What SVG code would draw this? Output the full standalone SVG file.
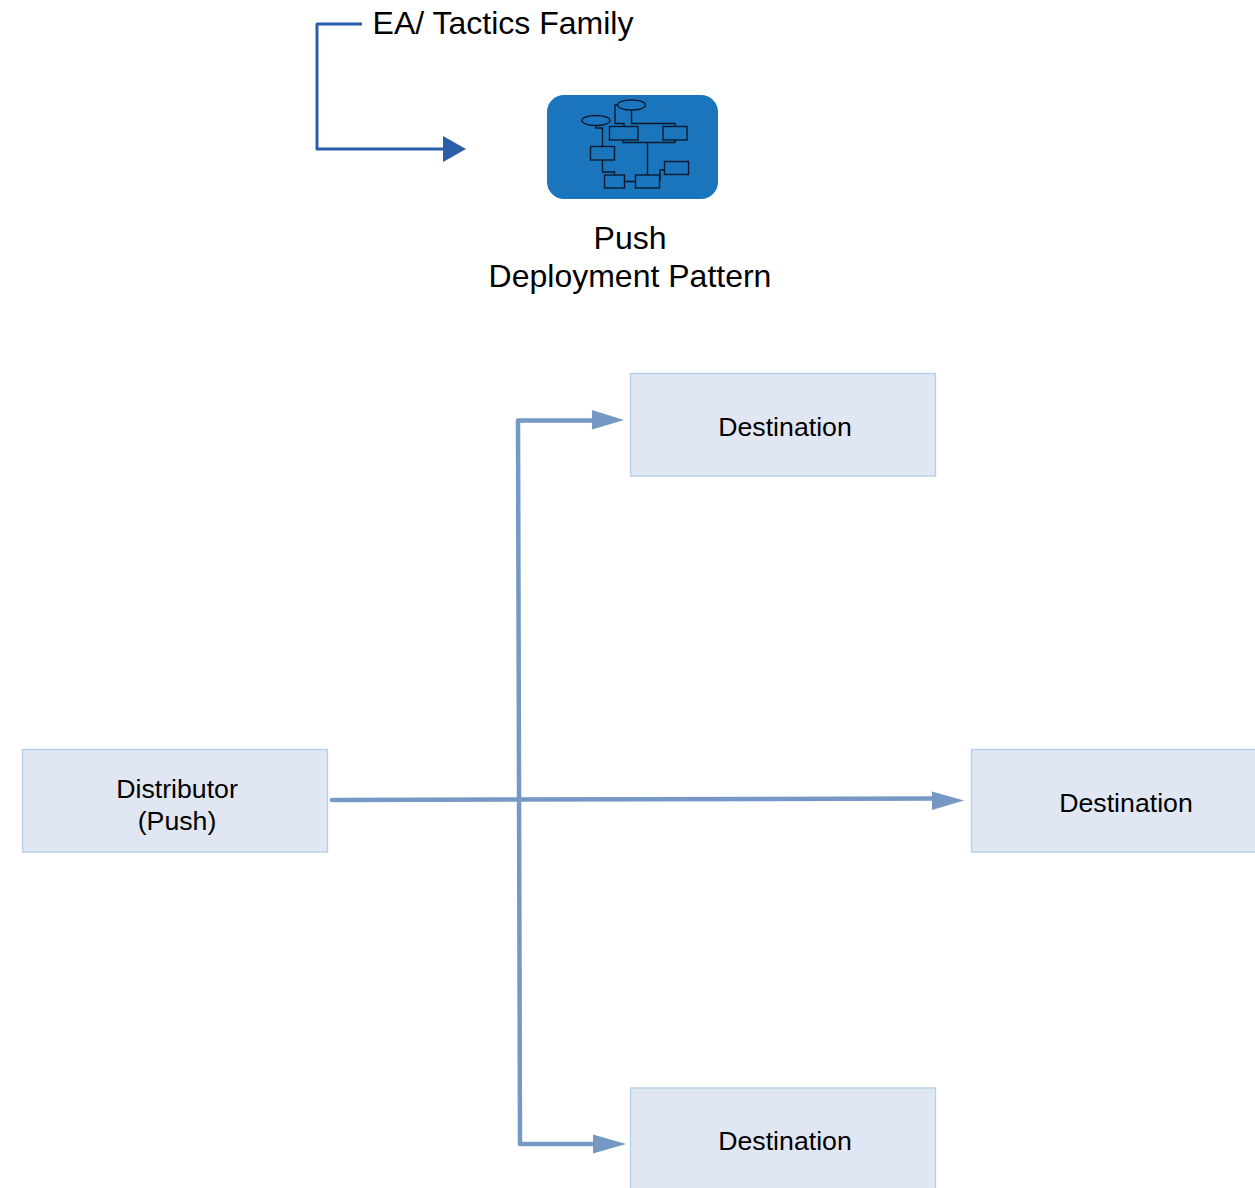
<svg xmlns="http://www.w3.org/2000/svg" width="1255" height="1188" viewBox="0 0 1255 1188">
<style>
text{font-family:"Liberation Sans",Arial,sans-serif;fill:#000;text-anchor:middle}
.box{fill:#e0e7f2;stroke:#b5d0e8;stroke-width:1.4}
.lbl{font-size:26.700px}
.t{font-size:32px}
.c{fill:none;stroke:#7598c5;stroke-width:4.500;stroke-linejoin:round;stroke-linecap:round}
.h{fill:#7598c5}
.i{fill:none;stroke:#0a1a2e;stroke-width:1.400}
</style>
<rect width="1255" height="1188" fill="#fff"/>
<g id="connectors">
<path d="M362 24H317V149H445" fill="none" stroke="#2a5ea8" stroke-width="3" stroke-linejoin="round"/>
<polygon points="443,136 466,149 443,162" fill="#2a5ea8"/>
<path class="c" d="M332 800L934 798.500"/>
<polygon class="h" points="932,791.500 964,800.500 932,810"/>
<path class="c" d="M593 420.500H518L520 1144H595"/>
<polygon class="h" points="592,410 624,420 592,429.500"/>
<polygon class="h" points="593,1134.500 626,1144 593,1153.500"/>
</g>
<g id="icon">
<rect x="547" y="95" width="171" height="104" rx="17" fill="#1b75bd"/>
<ellipse class="i" cx="631.500" cy="105" rx="14" ry="5"/>
<ellipse class="i" cx="596" cy="120.500" rx="14" ry="5"/>
<rect class="i" x="609.500" y="126.500" width="28.500" height="13.500"/>
<rect class="i" x="663" y="126.500" width="24" height="13.500"/>
<rect class="i" x="590.500" y="146.500" width="24" height="13.500"/>
<rect class="i" x="604.500" y="175" width="20" height="13"/>
<rect class="i" x="635.500" y="175" width="24" height="13"/>
<rect class="i" x="664.500" y="161.500" width="24" height="13"/>
<path class="i" d="M617.500 105H615V123.500H624V126.500M631.500 110V123.500H675V126.500M623 140V142.500H675V140M647.500 142.500V175M596 125.500V128H602.500V146.500M602.500 160V172H614.500V175M624.500 181.500H635.500M660 181V170H664.500"/>
</g>
<g id="title"><text class="t" x="503" y="34">EA/ Tactics Family</text></g>
<g id="pattern"><text class="t" x="630" y="249">Push</text><text class="t" x="630" y="287">Deployment Pattern</text></g>
<g id="distributor"><rect class="box" x="22.500" y="749.500" width="305" height="102.500"/><text class="lbl" x="177" y="798">Distributor</text><text class="lbl" x="177" y="830">(Push)</text></g>
<g id="dest-top"><rect class="box" x="630.500" y="373.500" width="305" height="102.500"/><text class="lbl" x="785" y="436">Destination</text></g>
<g id="dest-mid"><rect class="box" x="971.500" y="749.500" width="290" height="102.500"/><text class="lbl" x="1126" y="812">Destination</text></g>
<g id="dest-bot"><rect class="box" x="630.500" y="1088" width="305" height="110"/><text class="lbl" x="785" y="1150">Destination</text></g>
</svg>
